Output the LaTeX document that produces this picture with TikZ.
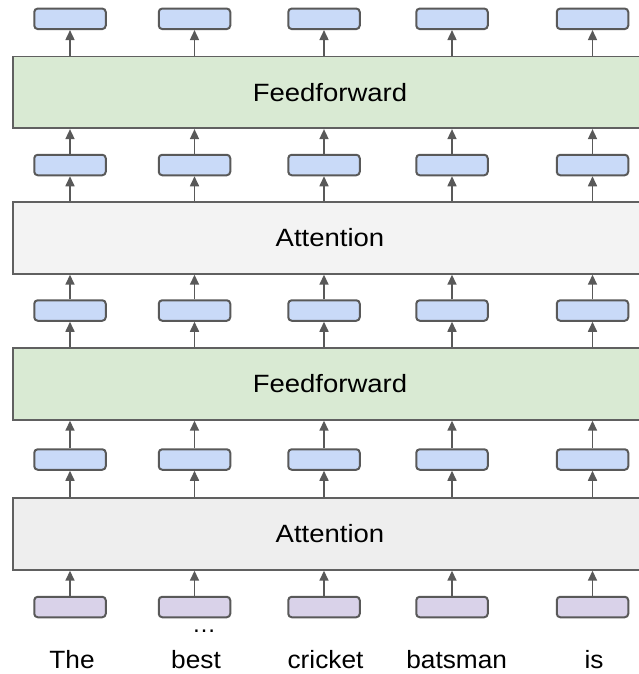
\documentclass[tikz,border=0pt]{standalone}
\usepackage{fontspec}
\setmainfont{Liberation Sans}
\newfontfamily\blockfont[FakeStretch=1.1]{Liberation Sans}
\newfontfamily\wordfont[FakeStretch=1.05]{Liberation Sans}
\usetikzlibrary{arrows.meta}
\definecolor{edge}{HTML}{595959}
\definecolor{blockedge}{HTML}{606060}
\definecolor{vecblue}{HTML}{C9DAF8}
\definecolor{vecpurple}{HTML}{D9D2E9}
\definecolor{ffgreen}{HTML}{D9EAD3}
\definecolor{attgrayA}{HTML}{F3F3F3}
\definecolor{attgrayB}{HTML}{EEEEEE}
\tikzset{
  vec/.style={draw=edge, line width=2pt, rounded corners=3.5pt,
    minimum width=71.5pt, minimum height=20.5pt, inner sep=0pt, fill=vecblue},
  tokvec/.style={vec, fill=vecpurple},
  block/.style={draw=blockedge, line width=1.8pt, minimum width=634.2pt,
    minimum height=71.6pt, inner sep=0pt,
    font=\blockfont\fontsize{25}{29}\selectfont},
  arr/.style={draw=edge, line width=1.6pt,
    -{Triangle[width=9pt,length=10pt]}},
  word/.style={anchor=base, inner sep=0pt,
    font=\wordfont\fontsize{25}{30}\selectfont}
}
\begin{document}
\begin{tikzpicture}[x=1pt,y=-1pt]
\useasboundingbox (0,0) rectangle (639,674);
\clip (0,0) rectangle (639,674);

% the four layer blocks, widest extent runs off the right edge
\node[block, fill=ffgreen]  (ffa)  at (330,92.4) {Feedforward};
\node[block, fill=attgrayA] (atta) at (330,238)  {Attention};
\node[block, fill=ffgreen]  (ffb)  at (330,384)  {Feedforward};
\node[block, fill=attgrayB] (attb) at (330,534)  {Attention};

% vectors between the layers and the token embeddings
\foreach \c [count=\i] in {70,194.5,324,452,592.5} {
  \node[vec]    (ra\i) at (\c,18.8)  {};
  \node[vec]    (rb\i) at (\c,165)   {};
  \node[vec]    (rc\i) at (\c,310.5) {};
  \node[vec]    (rd\i) at (\c,459.5) {};
  \node[tokvec] (re\i) at (\c,607)   {};
  % upward flow
  \draw[arr] (re\i.north) -- (attb.south -| re\i);
  \draw[arr] (attb.north -| rd\i) -- (rd\i.south);
  \draw[arr] (rd\i.north) -- (ffb.south -| rd\i);
  \draw[arr] (ffb.north -| rc\i) -- (rc\i.south);
  \draw[arr] (rc\i.north) -- (atta.south -| rc\i);
  \draw[arr] (atta.north -| rb\i) -- (rb\i.south);
  \draw[arr] (rb\i.north) -- (ffa.south -| rb\i);
  \draw[arr] (ffa.north -| ra\i) -- (ra\i.south);
}

% input words
\node[word] (w1) at (72,668)    {The};
\node[word] (w2) at (196,668)   {best};
\node[word] (w3) at (325.5,668) {cricket};
\node[word] (w4) at (456.7,668) {batsman};
\node[word] (w5) at (594,668)   {is};
\node[word, font=\fontsize{24}{28}\selectfont] (dots) at (204,632) {\char"2026};
\end{tikzpicture}
\end{document}
